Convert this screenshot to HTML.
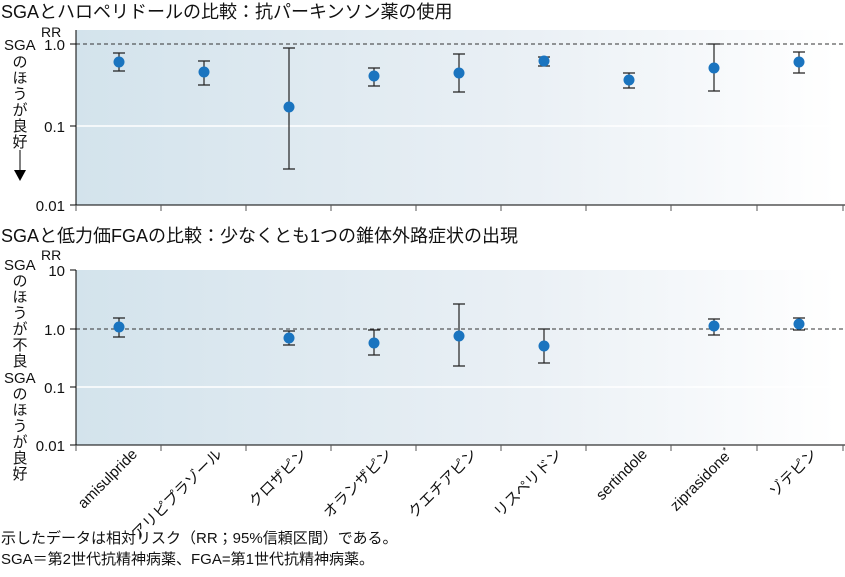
<!DOCTYPE html>
<html><head><meta charset="utf-8"><style>
body{margin:0;background:#fff;}
svg text{font-family:"Liberation Sans","Noto Sans CJK JP",sans-serif;fill:#111;}
</style></head><body>
<svg width="845" height="572" xmlns="http://www.w3.org/2000/svg">
<defs><linearGradient id="g" x1="0" x2="1" y1="0" y2="0">
<stop offset="0" stop-color="#d3e3ec"/><stop offset="0.6" stop-color="#eaf0f5"/><stop offset="1" stop-color="#ffffff"/></linearGradient></defs>
<text x="1" y="18" font-size="18">SGAとハロペリドールの比較：抗パーキンソン薬の使用</text>
<rect x="76" y="30" width="760" height="175" fill="url(#g)"/>
<line x1="76" y1="126" x2="836" y2="126" stroke="#fff" stroke-width="1.5"/>
<line x1="76" y1="44" x2="845" y2="44" stroke="#333" stroke-dasharray="4,3"/>
<line x1="76" y1="30" x2="76" y2="205" stroke="#000"/>
<line x1="76" y1="205" x2="845" y2="205" stroke="#000"/>
<g stroke="#000"><line x1="70" y1="44" x2="76" y2="44"/><line x1="70" y1="126" x2="76" y2="126"/><line x1="70" y1="205" x2="76" y2="205"/></g>
<g stroke="#555"><line x1="76" y1="205" x2="76" y2="211"/><line x1="161" y1="205" x2="161" y2="211"/><line x1="246" y1="205" x2="246" y2="211"/><line x1="331" y1="205" x2="331" y2="211"/><line x1="416" y1="205" x2="416" y2="211"/><line x1="501" y1="205" x2="501" y2="211"/><line x1="586" y1="205" x2="586" y2="211"/><line x1="671" y1="205" x2="671" y2="211"/><line x1="757" y1="205" x2="757" y2="211"/><line x1="843" y1="205" x2="843" y2="211"/></g>
<g font-size="15" text-anchor="end"><text x="65" y="50">1.0</text><text x="65" y="132">0.1</text><text x="65" y="211">0.01</text></g>
<text x="41" y="37" font-size="14">RR</text>
<text x="4" y="50" font-size="15">SGA</text>
<g font-size="15" text-anchor="middle"><text x="20" y="67">の</text><text x="20" y="83">ほ</text><text x="20" y="99">う</text><text x="20" y="115">が</text><text x="20" y="131">良</text><text x="20" y="147">好</text></g>
<line x1="20" y1="150" x2="20" y2="170" stroke="#000"/><polygon points="14,170 26,170 20,181" fill="#000"/>
<g stroke="#222" stroke-width="1.2">
<path d="M119 53V71M113 53H125M113 71H125"/>
<path d="M204 61V85M198 61H210M198 85H210"/>
<path d="M289 48V169M283 48H295M283 169H295"/>
<path d="M374 68V86M368 68H380M368 86H380"/>
<path d="M459 54V92M453 54H465M453 92H465"/>
<path d="M544 57V66M538 57H550M538 66H550"/>
<path d="M629 73V88M623 73H635M623 88H635"/>
<path d="M714 44V91M708 44H720M708 91H720"/>
<path d="M799 52V73M793 52H805M793 73H805"/>
</g>
<g fill="#1a74bf"><circle cx="119" cy="62" r="5.5"/><circle cx="204" cy="72" r="5.5"/><circle cx="289" cy="107" r="5.5"/><circle cx="374" cy="76" r="5.5"/><circle cx="459" cy="73" r="5.5"/><circle cx="544" cy="61" r="5.5"/><circle cx="629" cy="80" r="5.5"/><circle cx="714" cy="68" r="5.5"/><circle cx="799" cy="62" r="5.5"/></g>

<text x="1" y="242" font-size="18">SGAと低力価FGAの比較：少なくとも1つの錐体外路症状の出現</text>
<rect x="76" y="270" width="760" height="175" fill="url(#g)"/>
<line x1="76" y1="387" x2="836" y2="387" stroke="#fff" stroke-width="1.5"/>
<line x1="76" y1="329" x2="845" y2="329" stroke="#333" stroke-dasharray="4,3"/>
<line x1="76" y1="270" x2="76" y2="445" stroke="#000"/>
<line x1="76" y1="445" x2="845" y2="445" stroke="#000"/>
<g stroke="#000"><line x1="70" y1="270" x2="76" y2="270"/><line x1="70" y1="329" x2="76" y2="329"/><line x1="70" y1="387" x2="76" y2="387"/><line x1="70" y1="445" x2="76" y2="445"/></g>
<g stroke="#555"><line x1="76" y1="445" x2="76" y2="451"/><line x1="161" y1="445" x2="161" y2="451"/><line x1="246" y1="445" x2="246" y2="451"/><line x1="331" y1="445" x2="331" y2="451"/><line x1="416" y1="445" x2="416" y2="451"/><line x1="501" y1="445" x2="501" y2="451"/><line x1="586" y1="445" x2="586" y2="451"/><line x1="671" y1="445" x2="671" y2="451"/><line x1="757" y1="445" x2="757" y2="451"/><line x1="843" y1="445" x2="843" y2="451"/></g>
<g font-size="15" text-anchor="end"><text x="65" y="276">10</text><text x="65" y="335">1.0</text><text x="65" y="393">0.1</text><text x="65" y="451">0.01</text></g>
<text x="41" y="260" font-size="14">RR</text>
<text x="4" y="270" font-size="15">SGA</text>
<g font-size="15" text-anchor="middle"><text x="20" y="286">の</text><text x="20" y="302">ほ</text><text x="20" y="318">う</text><text x="20" y="334">が</text><text x="20" y="350">不</text><text x="20" y="366">良</text></g>
<text x="4" y="383" font-size="15">SGA</text>
<g font-size="15" text-anchor="middle"><text x="20" y="399">の</text><text x="20" y="415">ほ</text><text x="20" y="431">う</text><text x="20" y="447">が</text><text x="20" y="463">良</text><text x="20" y="479">好</text></g>
<g stroke="#222" stroke-width="1.2">
<path d="M119 318V337M113 318H125M113 337H125"/>
<path d="M289 331V345M283 331H295M283 345H295"/>
<path d="M374 330V355M368 330H380M368 355H380"/>
<path d="M459 304V366M453 304H465M453 366H465"/>
<path d="M544 329V363M538 329H550M538 363H550"/>
<path d="M714 319V335M708 319H720M708 335H720"/>
<path d="M799 318V330M793 318H805M793 330H805"/>
</g>
<g fill="#1a74bf"><circle cx="119" cy="327" r="5.5"/><circle cx="289" cy="338" r="5.5"/><circle cx="374" cy="343" r="5.5"/><circle cx="459" cy="336" r="5.5"/><circle cx="544" cy="346" r="5.5"/><circle cx="714" cy="326" r="5.5"/><circle cx="799" cy="324" r="5.5"/></g>
<g font-size="15" text-anchor="end">
<text transform="translate(138,455) rotate(-45)">amisulpride</text>
<text transform="translate(223,455) rotate(-45)">アリピプラゾール</text>
<text transform="translate(308,455) rotate(-45)">クロザピン</text>
<text transform="translate(393,455) rotate(-45)">オランザピン</text>
<text transform="translate(478,455) rotate(-45)">クエチアピン</text>
<text transform="translate(563,455) rotate(-45)">リスペリドン</text>
<text transform="translate(648,455) rotate(-45)">sertindole</text>
<text transform="translate(733,455) rotate(-45)">ziprasidone<tspan font-size="9" dy="-6">*</tspan></text>
<text transform="translate(818,455) rotate(-45)">ゾテピン</text>
</g>
<text x="1" y="543" font-size="15">示したデータは相対リスク（RR；95%信頼区間）である。</text>
<text x="1" y="564" font-size="15">SGA＝第2世代抗精神病薬、FGA=第1世代抗精神病薬。</text>
</svg>
</body></html>
